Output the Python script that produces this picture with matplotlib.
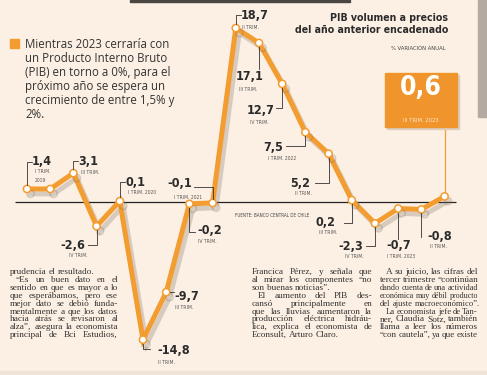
# PIB trimestral Chile - recreación del gráfico de prensa
import numpy as np
import matplotlib
matplotlib.use('Agg')
import matplotlib.pyplot as plt
import matplotlib.patheffects as pe
from matplotlib import font_manager as fm
from matplotlib.patches import Rectangle

# ---- datos ----
quarters = ['I-2019', 'II-2019', 'III-2019', 'IV-2019',
            'I-2020', 'II-2020', 'III-2020', 'IV-2020',
            'I-2021', 'II-2021', 'III-2021', 'IV-2021',
            'I-2022', 'II-2022', 'III-2022', 'IV-2022',
            'I-2023', 'II-2023', 'III-2023']
values = [1.4, 1.4, 3.1, -2.6, 0.1, -14.8, -9.7, -0.2, -0.1, 18.7,
          17.1, 12.7, 7.5, 5.2, 0.2, -2.3, -0.7, -0.8, 0.6]
value_labels = ['1,4', None, '3,1', '-2,6', '0,1', '-14,8', '-9,7', '-0,2', '-0,1', '18,7',
                '17,1', '12,7', '7,5', '5,2', '0,2', '-2,3', '-0,7', '-0,8', None]
sub_labels = ['I TRIM.\n2019', None, 'III TRIM.', 'IV TRIM.', 'I TRIM. 2020', 'II TRIM.',
              'III TRIM.', 'IV TRIM.', 'I TRIM. 2021', 'II TRIM.', 'III TRIM.', 'IV TRIM.',
              'I TRIM. 2022', 'II TRIM.', 'III TRIM.', 'IV TRIM.', 'I TRIM. 2023', 'II TRIM.', None]
last_value = '0,6'
last_label = 'III TRIM. 2023'

title = 'PIB volumen a precios\ndel año anterior encadenado'
subtitle = '% VARIACIÓN ANUAL'
source = 'FUENTE: BANCO CENTRAL DE CHILE'
bullet_lines = ['Mientras 2023 cerraría con', 'un Producto Interno Bruto',
                '(PIB) en torno a 0%, para el', 'próximo año se espera un',
                'crecimiento de entre 1,5% y', '2%.']
left_col = ['prudencia el resultado.', '“Es un buen dato en el', 'sentido en que es mayor a lo',
            'que esperábamos, pero ese', 'mejor dato se debió funda-', 'mentalmente a que los datos',
            'hacia atrás se revisaron al', 'alza”, asegura la economista', 'principal de Bci Estudios,']
mid_col = ['Francica Pérez, y señala que', 'al mirar los componentes “no', 'son buenas noticias”.',
           'El aumento del PIB des-', 'cansó principalmente en', 'que las lluvias aumentaron la',
           'producción eléctrica hidráu-', 'lica, explica el economista de', 'Econsult, Arturo Claro.']
right_col = ['A su juicio, las cifras del', 'tercer trimestre “continúan', 'dando cuenta de una actividad',
             'económica muy débil producto', 'del ajuste macroeconómico”.', 'La economista jefe de Tan-',
             'ner, Claudia Sotz, también', 'llama a leer los números', '“con cautela”, ya que existe']
indented = {'left': [1], 'mid': [3], 'right': [0, 5]}

# ---- estilo ----
W, H = 487, 375
bg = '#fcf0e4'
orange = '#f39c30'
ink = '#2b2b2b'


def find_font(bold):
    # busca una fuente estrecha instalada (Narrow / Condensed)
    for f in fm.fontManager.ttflist:
        w = f.weight if isinstance(f.weight, int) else fm.weight_dict.get(f.weight, 400)
        st = str(f.stretch)
        narrow = ('Narrow' in f.name or 'Condensed' in f.name or 'condensed' in st)
        if narrow and (w >= 700) == bold and 'italic' not in f.style and 'oblique' not in f.style:
            return fm.FontProperties(fname=f.fname)
    return fm.FontProperties(family='Liberation Sans', weight='bold' if bold else 'normal')


cond_bold = find_font(True)
cond_reg = find_font(False)

fig = plt.figure(figsize=(W / 100, H / 100), dpi=100)
fig.patch.set_facecolor(bg)
ax = fig.add_axes([0, 0, 1, 1])
ax.axis('off')

# escala: 23.2 px por trimestre, 9.3 px por punto porcentual, cero a 202 px
x0_px, dx_px, y0_px, dy_px = 27, 23.2, 202, 9.3
ax.set_xlim(-x0_px / dx_px, (W - x0_px) / dx_px)
ax.set_ylim(-(H - y0_px) / dy_px, y0_px / dy_px)


def fpos(x, y):
    # pixel de la imagen (origen arriba-izq) a fracción de figura
    return x / W, 1 - y / H


# elementos del recorte de prensa
fig.patches.append(Rectangle(fpos(478, 117), 9 / W, 117 / H, transform=fig.transFigure,
                             color='#b3aaa1', zorder=0))
fig.patches.append(Rectangle(fpos(130, 2), 220 / W, 2 / H, transform=fig.transFigure,
                             color='#4a4642', zorder=0))
fig.patches.append(Rectangle(fpos(0, 375), 1, 4 / H, transform=fig.transFigure,
                             color='#efe2d6', zorder=0))

x = np.arange(len(values))

# línea del cero
ax.hlines(0, -0.5, len(values) - 0.5, color='#222222', lw=0.9, zorder=2)

# serie
ax.plot(x, values, color=orange, lw=3.6, marker='o', ms=5.2, mfc='white', mec=orange, mew=1.1,
        solid_joinstyle='miter', zorder=4,
        path_effects=[pe.SimpleLineShadow(offset=(2.5, -3.5), shadow_color='#7a6e66', alpha=0.28),
                      pe.Normal()])

# posiciones de etiquetas (px respecto al punto, y hacia abajo)
layout = {
    0: ((5, -27, 'left'), (8, -20), [(0, -4), (0, -27), (5, -27)]),
    2: ((5, -12, 'left'), (8, -3), [(0, -4), (0, -12), (5, -12)]),
    3: ((-11, 19, 'right'), (-28, 27), [(0, 4), (0, 19), (-9, 19)]),
    4: ((6, -19, 'left'), (8, -11), [(0, -4), (0, -19), (5, -19)]),
    5: ((14, 11, 'left'), (15, 20), [(0, 4), (0, 9), (7, 9)]),
    6: ((8, 4, 'left'), (9, 13), [(4, 0), (8, 0)]),
    7: ((8, 27, 'left'), (9, 35), [(0, 4), (0, 28), (6, 28)]),
    8: ((-20, -19, 'right'), (-39, -8), [(-19, -16), (0, -16), (0, -4)]),
    9: ((5, -13, 'left'), (6, -3), [(0, -4), (0, -13), (5, -13)]),
    10: ((5, 34, 'right'), (-20, 44), [(0, 4), (0, 26)]),
    11: ((-8, 27, 'right'), (-32, 36), [(0, 4), (0, 24), (-6, 24)]),
    12: ((-22, 15, 'right'), (-37, 24), [(0, 4), (0, 14), (-19, 14)]),
    13: ((-18, 30, 'right'), (-34, 37), [(0, 4), (0, 29), (-14, 29)]),
    14: ((-16, 22, 'right'), (-33, 30), [(0, 4), (0, 23), (-8, 23)]),
    15: ((-12, 23, 'right'), (-30, 31), [(0, 4), (0, 23), (-9, 23)]),
    16: ((-12, 37, 'left'), (-11, 45), [(0, 4), (0, 30)]),
    17: ((6, 27, 'left'), (9, 35), [(0, 4), (0, 28)]),
}

inv = ax.transData.inverted()
for i, (txt, sub) in enumerate(zip(value_labels, sub_labels)):
    if txt is None:
        continue
    (tdx, tdy, ha), (sdx, sdy), leader = layout[i]
    ax.annotate(txt, (x[i], values[i]), xytext=(tdx, -tdy), textcoords='offset pixels',
                ha=ha, va='center', fontproperties=cond_bold, fontsize=9, color=ink, zorder=6)
    ax.annotate(sub, (x[i], values[i]), xytext=(sdx, -sdy), textcoords='offset pixels',
                ha='left', va='top', fontproperties=cond_reg, fontsize=3.6, color='#555555',
                linespacing=1.9, zorder=6)
    p = ax.transData.transform((x[i], values[i]))
    pts = inv.transform([(p[0] + a, p[1] - b) for a, b in leader])
    ax.plot(pts[:, 0], pts[:, 1], color='#333333', lw=0.6, zorder=5)

# recuadro del último dato
bx0, by0, bx1, by1 = 385, 73, 457, 127
fig.patches.append(Rectangle(fpos(bx0 + 2, by1 + 2), (bx1 - bx0) / W, (by1 - by0) / H,
                             transform=fig.transFigure, color='#dccdbf', zorder=1))
fig.patches.append(Rectangle(fpos(bx0, by1), (bx1 - bx0) / W, (by1 - by0) / H,
                             transform=fig.transFigure, color='#f0952b', zorder=2))
fig.text(*fpos(421, 88), last_value, ha='center', va='center', color='white',
         fontproperties=cond_bold, fontsize=19, zorder=3)
fig.text(*fpos(421, 121), last_label, ha='center', va='center', color='#fde6cc',
         fontproperties=cond_reg, fontsize=4.2, zorder=3)
p = ax.transData.transform((x[-1], values[-1]))
top = inv.transform((p[0], H - by1))
ax.plot([x[-1], x[-1]], [values[-1] + 0.4, top[1]], color=orange, lw=0.9, zorder=3)

# títulos
fig.text(*fpos(448, 24), title, ha='right', va='center', fontproperties=cond_bold,
         fontsize=7.6, color=ink, linespacing=1.25)
fig.text(*fpos(446, 48), subtitle, ha='right', va='center', fontproperties=cond_reg,
         fontsize=4.2, color='#444444')
fig.text(*fpos(235, 216), source, ha='left', va='center', fontproperties=cond_reg,
         fontsize=3.3, color='#444444')

# viñeta
fig.patches.append(Rectangle(fpos(10, 48), 9 / W, 9 / H, transform=fig.transFigure,
                             color=orange, zorder=2))
for k, line in enumerate(bullet_lines):
    fig.text(*fpos(25, 44 + 14.2 * k), line, ha='left', va='center', family='Open Sans',
             fontsize=8.3, color='#333333')

# columnas de texto (justificadas palabra a palabra)
renderer = fig.canvas.get_renderer()
col_size = 6.7


def column(lines, xl, xr, key):
    for k, line in enumerate(lines):
        y = 272 + 7.9 * k
        start = xl + (6 if k in indented[key] else 0)
        words = line.split(' ')
        texts = [fig.text(*fpos(start, y), w, ha='left', va='center', family='Liberation Serif',
                          fontsize=col_size, color='#333333') for w in words]
        widths = [t.get_window_extent(renderer).width for t in texts]
        # si la línea no cabe, se achica la letra de esa línea
        need = sum(widths) + 1.6 * (len(words) - 1)
        if need > xr - start:
            scale = (xr - start) / need
            for t in texts:
                t.set_fontsize(col_size * scale)
            widths = [w * scale for w in widths]
        last = line.endswith('.')
        gap = 2.0 if (last or len(words) < 2) else (xr - start - sum(widths)) / (len(words) - 1)
        pos = start
        for t, w in zip(texts, widths):
            t.set_position(fpos(pos, y))
            pos += w + gap


column(left_col, 10, 118, 'left')
column(mid_col, 252, 372, 'mid')
column(right_col, 380, 478, 'right')

fig.savefig('out.png', dpi=100, facecolor=bg)
